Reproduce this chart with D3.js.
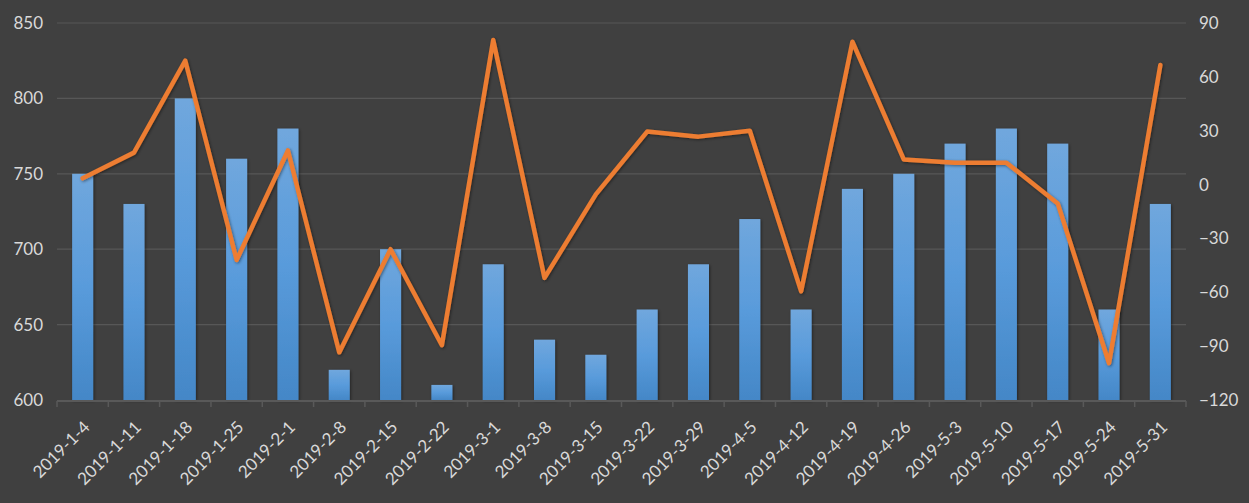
<!DOCTYPE html>
<html><head><meta charset="utf-8">
<script src="https://cdn.jsdelivr.net/npm/d3@7"></script>
<style>
html,body{margin:0;padding:0;background:#404040;}
svg{display:block;}
text{font-family:Lato,"Noto Sans",sans-serif;fill:#d9d9d9;}
</style></head><body>
<svg id="c" width="1249" height="503"></svg>
<script>
const categories = ["2019-1-4","2019-1-11","2019-1-18","2019-1-25","2019-2-1","2019-2-8","2019-2-15","2019-2-22","2019-3-1","2019-3-8","2019-3-15","2019-3-22","2019-3-29","2019-4-5","2019-4-12","2019-4-19","2019-4-26","2019-5-3","2019-5-10","2019-5-17","2019-5-24","2019-5-31"];
const barValues = [750,730,800,760,780,620,700,610,690,640,630,660,690,720,660,740,750,770,780,770,660,730];
const lineValues = [3.5,17.8,69,-42,19,-93.5,-36,-89.5,80.5,-52,-5.5,29.5,26.7,30,-59.5,79.6,14,12.2,12.2,-10.5,-99.5,66.6];
const leftTicks = [600,650,700,750,800,850];
const rightTicks = [-120,-90,-60,-30,0,30,60,90];

const svg = d3.select("#c");
const m = {left:57, right:1186, top:23, bottom:400};

const x = d3.scaleBand().domain(categories).range([m.left, m.right]).paddingInner(0.59).paddingOuter(0.295);
const xTick = d3.scaleBand().domain(categories).range([m.left, m.right]);
const yL = d3.scaleLinear().domain([600,850]).range([m.bottom, m.top]);
const yR = d3.scaleLinear().domain([-120,90]).range([m.bottom, m.top]);

const defs = svg.append("defs");
const g = defs.append("linearGradient").attr("id","bg").attr("x1",0).attr("y1",0).attr("x2",0).attr("y2",1);
g.append("stop").attr("offset","0%").attr("stop-color","#70a7dd");
g.append("stop").attr("offset","50%").attr("stop-color","#599bdb");
g.append("stop").attr("offset","100%").attr("stop-color","#4487c7");
const f = defs.append("filter").attr("id","sh").attr("x","-20%").attr("y","-20%").attr("width","150%").attr("height","150%");
f.append("feDropShadow").attr("dx",1).attr("dy",1).attr("stdDeviation",1.5).attr("flood-color","#000").attr("flood-opacity",0.45);

// gridlines
svg.append("g").selectAll("line").data(leftTicks.filter(d=>d!==600)).join("line")
  .attr("x1",m.left).attr("x2",m.right).attr("y1",d=>yL(d)).attr("y2",d=>yL(d))
  .attr("stroke","#575757").attr("stroke-width",1.2);

// left axis labels
const axL = svg.append("g").attr("transform",`translate(${m.left},0)`)
  .call(d3.axisLeft(yL).tickValues(leftTicks).tickSize(0).tickPadding(14));
axL.select(".domain").remove();
axL.selectAll("text").attr("font-size",17).style("fill","#d9d9d9").style("font-family","Lato,'Noto Sans',sans-serif");

// right axis labels
const axR = svg.append("g").attr("transform",`translate(${m.right},0)`)
  .call(d3.axisRight(yR).tickValues(rightTicks).tickSize(0).tickPadding(13));
axR.select(".domain").remove();
axR.selectAll("text").attr("font-size",17).style("fill","#d9d9d9").style("font-family","Lato,'Noto Sans',sans-serif");

// bars
svg.append("g").selectAll("rect").data(barValues).join("rect")
  .attr("x",(d,i)=>x(categories[i])).attr("width",x.bandwidth())
  .attr("y",d=>yL(d)).attr("height",d=>yL(600)-yL(d))
  .attr("fill","url(#bg)").attr("filter","url(#sh)");

// bottom axis
svg.append("line").attr("x1",m.left).attr("x2",m.right).attr("y1",m.bottom+1).attr("y2",m.bottom+1)
  .attr("stroke","#595959").attr("stroke-width",2);
const tickPos = categories.map(c=>xTick(c)).concat([m.right]);
svg.append("g").selectAll("line").data(tickPos).join("line")
  .attr("x1",d=>d).attr("x2",d=>d).attr("y1",m.bottom+1).attr("y2",m.bottom+7)
  .attr("stroke","#595959").attr("stroke-width",1.5);

// x labels
svg.append("g").selectAll("text").data(categories).join("text")
  .attr("transform",d=>`translate(${x(d)+x.bandwidth()/2+4},${m.bottom+24}) rotate(-45)`)
  .attr("text-anchor","end").attr("font-size",17).attr("dy","0.35em").text(d=>d);

// line
const line = d3.line().x((d,i)=>x(categories[i])+x.bandwidth()/2).y(d=>yR(d));
svg.append("path").datum(lineValues).attr("d",line)
  .attr("fill","none").attr("stroke","#ed7d31").attr("stroke-width",4.5)
  .attr("stroke-linejoin","round").attr("stroke-linecap","round").attr("filter","url(#sh)");
</script>
</body></html>
